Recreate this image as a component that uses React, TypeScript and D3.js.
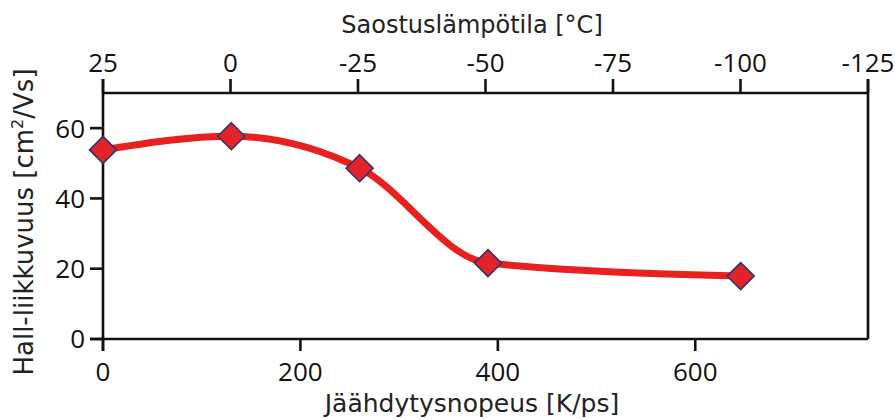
import React from "react";
import * as d3 from "d3";

// Cooling rate (K/ps) and Hall mobility (cm²/Vs)
const coolingRate = [0, 130, 260, 390, 646];
const mobility = [53.8, 57.7, 48.6, 21.6, 17.9];

const bottomTicks = [0, 200, 400, 600];
const topTicks = [25, 0, -25, -50, -75, -100, -125];
const yTicks = [0, 20, 40, 60];

const W = 895;
const H = 419;
const left = 103;
const right = 868;
const top = 93;
const bottom = 339;

const tickFont = "'Open Sans', 'Liberation Sans', sans-serif";
const titleFont = "'DejaVu Sans', sans-serif";

export default function App() {
  const x = d3.scaleLinear().domain([0, 775]).range([left, right]);
  const xTop = d3.scaleLinear().domain([25, -125]).range([left, right]);
  const y = d3.scaleLinear().domain([0, 70]).range([bottom, top]);

  const pts = coolingRate.map((c, i) => [c, mobility[i]] as [number, number]);
  const line = d3
    .line<[number, number]>()
    .x((d) => x(d[0]))
    .y((d) => y(d[1]))
    .curve(d3.curveMonotoneX);

  const diamond = (cx: number, cy: number, r: number) =>
    `M${cx},${cy - r}L${cx + r},${cy}L${cx},${cy + r}L${cx - r},${cy}Z`;

  const axisColor = "#111";
  const aw = 2.6;

  return (
    <svg
      width={W}
      height={H}
      style={{ position: "absolute", left: 0, top: 0, background: "#fff" }}
    >
      {/* plot frame */}
      <line x1={left} x2={left} y1={79} y2={351} stroke={axisColor} strokeWidth={aw} />
      <line x1={right} x2={right} y1={79} y2={bottom} stroke={axisColor} strokeWidth={aw} />
      <line x1={left} x2={right} y1={top} y2={top} stroke={axisColor} strokeWidth={aw} />
      <line x1={90} x2={right} y1={bottom} y2={bottom} stroke={axisColor} strokeWidth={aw} />

      {/* top axis: precipitation temperature */}
      {topTicks.map((t) => (
        <g key={"t" + t}>
          <line x1={xTop(t)} x2={xTop(t)} y1={top} y2={79} stroke={axisColor} strokeWidth={aw} />
          <text
            x={xTop(t)}
            y={72}
            textAnchor="middle"
            fontFamily={tickFont}
            fontSize={26}
            fill="#111"
          >
            {t}
          </text>
        </g>
      ))}

      {/* bottom axis: cooling rate */}
      {bottomTicks.map((t) => (
        <g key={"b" + t}>
          <line x1={x(t)} x2={x(t)} y1={bottom} y2={351} stroke={axisColor} strokeWidth={aw} />
          <text
            x={x(t)}
            y={381}
            textAnchor="middle"
            fontFamily={tickFont}
            fontSize={26}
            fill="#111"
          >
            {t}
          </text>
        </g>
      ))}

      {/* left axis: Hall mobility */}
      {yTicks.map((t) => (
        <g key={"y" + t}>
          <line x1={90} x2={left} y1={y(t)} y2={y(t)} stroke={axisColor} strokeWidth={aw} />
          <text
            x={85}
            y={y(t)}
            dy="0.36em"
            textAnchor="end"
            fontFamily={tickFont}
            fontSize={26}
            fill="#111"
          >
            {t}
          </text>
        </g>
      ))}

      {/* mobility curve */}
      <path d={line(pts) ?? ""} fill="none" stroke="#e8201f" strokeWidth={7} strokeLinecap="round" />
      {pts.map((p, i) => (
        <path
          key={"m" + i}
          d={diamond(x(p[0]), y(p[1]), 13.5)}
          fill="#e3222a"
          stroke="#2d3766"
          strokeWidth={1.6}
        />
      ))}

      {/* axis titles */}
      <text x={472} y={33} textAnchor="middle" fontFamily={titleFont} fontSize={24} fill="#222">
        Saostuslämpötila [°C]
      </text>
      <text x={472} y={412} textAnchor="middle" fontFamily={titleFont} fontSize={25} fill="#222">
        Jäähdytysnopeus [K/ps]
      </text>
      <text
        transform="translate(33,222) rotate(-90)"
        textAnchor="middle"
        fontFamily={titleFont}
        fontSize={26}
        fill="#222"
      >
        Hall-liikkuvuus [cm
        <tspan fontSize={16} dy={-10}>2</tspan>
        <tspan dy={10}>/Vs]</tspan>
      </text>
    </svg>
  );
}
